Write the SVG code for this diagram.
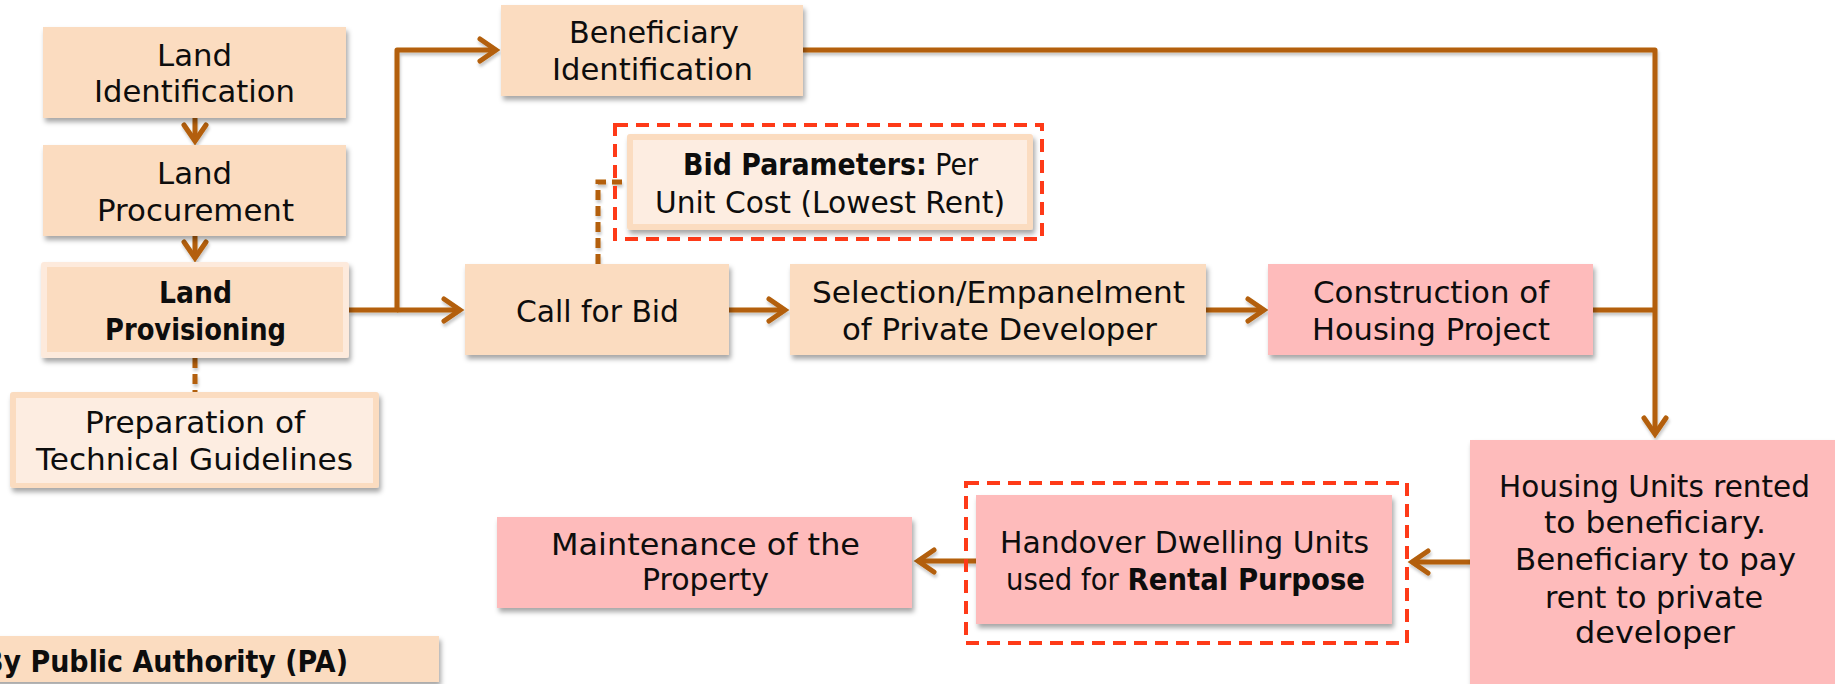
<svg xmlns="http://www.w3.org/2000/svg" width="1835" height="684" viewBox="0 0 1835 684">
  <style>
    text { font-family: "DejaVu Sans", "Liberation Sans", sans-serif; font-size: 30px; fill: #0d0d0d; }
    .b { font-weight: bold; }
    .peach { fill: #fbdcc0; }
    .pink { fill: #febbbb; }
    .light { fill: #fdede1; }
    .pale { fill: #fdeadc; }
    .flow { fill: none; stroke: #b35e08; stroke-width: 5; stroke-linejoin: round; }
    .dash { fill: none; stroke: #b35e08; stroke-width: 5; stroke-dasharray: 10 6; }
    .focus { fill: none; stroke: #fe3a18; stroke-width: 4; stroke-dasharray: 13 8; }
  </style>
  <defs>
    <filter id="sh" x="-10%" y="-20%" width="130%" height="150%">
      <feDropShadow dx="2" dy="4" stdDeviation="2.5" flood-color="#000" flood-opacity="0.35"/>
    </filter>
    <filter id="lsh" x="-5%" y="-5%" width="110%" height="110%">
      <feDropShadow dx="1" dy="3" stdDeviation="1.5" flood-color="#000" flood-opacity="0.22"/>
    </filter>
    <marker id="arr" markerUnits="userSpaceOnUse" markerWidth="40" markerHeight="40" viewBox="-20 -20 40 40" refX="0" refY="0" orient="auto" overflow="visible">
      <path d="M-16,-11 L0,0 L-16,11" fill="none" stroke="#b35e08" stroke-width="5" stroke-linecap="round" stroke-linejoin="miter"/>
    </marker>
  </defs>

  <rect width="1835" height="684" fill="#ffffff"/>

  <!-- connectors -->
  <g id="connectors" filter="url(#lsh)">
    <path class="flow" d="M195,118 V141" marker-end="url(#arr)"/>
    <path class="flow" d="M195,236 V258" marker-end="url(#arr)"/>
    <path class="dash" d="M195,358 V392"/>
    <path class="flow" d="M349,310 H397 V50 H496" marker-end="url(#arr)"/>
    <path class="flow" d="M397,310 H460" marker-end="url(#arr)"/>
    <path class="dash" d="M598,264 V182 H629"/>
    <path class="flow" d="M729,310 H785" marker-end="url(#arr)"/>
    <path class="flow" d="M1206,310 H1264" marker-end="url(#arr)"/>
    <path class="flow" d="M803,50 H1655 V434" marker-end="url(#arr)"/>
    <path class="flow" d="M1593,310 H1655"/>
    <path class="flow" d="M1470,562 H1412" marker-end="url(#arr)"/>
    <path class="flow" d="M976,561 H918" marker-end="url(#arr)"/>
  </g>

  <g id="land-identification">
    <rect class="peach" x="43" y="27" width="303" height="91" filter="url(#sh)"/>
    <text x="157" y="66" textLength="75" lengthAdjust="spacingAndGlyphs">Land</text>
    <text x="94" y="102" textLength="201" lengthAdjust="spacingAndGlyphs">Identification</text>
  </g>

  <g id="land-procurement">
    <rect class="peach" x="43" y="145" width="303" height="91" filter="url(#sh)"/>
    <text x="157" y="184" textLength="75" lengthAdjust="spacingAndGlyphs">Land</text>
    <text x="97" y="221" textLength="197" lengthAdjust="spacingAndGlyphs">Procurement</text>
  </g>

  <g id="land-provisioning">
    <rect class="pale" x="41" y="262" width="308" height="96" rx="3" filter="url(#sh)"/>
    <rect class="peach" x="47" y="267" width="296" height="85"/>
    <text class="b" x="159" y="303" textLength="73" lengthAdjust="spacingAndGlyphs">Land</text>
    <text class="b" x="105" y="340" textLength="181" lengthAdjust="spacingAndGlyphs">Provisioning</text>
  </g>

  <g id="technical-guidelines">
    <rect class="peach" x="10" y="392" width="369" height="96" rx="3" filter="url(#sh)"/>
    <rect class="light" x="16" y="398" width="357" height="85"/>
    <text x="85" y="433" textLength="220" lengthAdjust="spacingAndGlyphs">Preparation of</text>
    <text x="36" y="470" textLength="317" lengthAdjust="spacingAndGlyphs">Technical Guidelines</text>
  </g>

  <g id="beneficiary-identification">
    <rect class="peach" x="501" y="5" width="302" height="91" filter="url(#sh)"/>
    <text x="569" y="43" textLength="170" lengthAdjust="spacingAndGlyphs">Beneficiary</text>
    <text x="552" y="80" textLength="201" lengthAdjust="spacingAndGlyphs">Identification</text>
  </g>

  <g id="bid-parameters">
    <rect class="focus" x="615" y="125" width="427" height="114"/>
    <rect class="peach" x="627" y="134" width="406" height="96" rx="3" filter="url(#sh)"/>
    <rect class="light" x="633" y="140" width="394" height="84"/>
    <text x="683" y="175" textLength="295" lengthAdjust="spacingAndGlyphs"><tspan class="b">Bid Parameters:</tspan> Per</text>
    <text x="655" y="213" textLength="350" lengthAdjust="spacingAndGlyphs">Unit Cost (Lowest Rent)</text>
  </g>

  <g id="call-for-bid">
    <rect class="peach" x="465" y="264" width="264" height="91" filter="url(#sh)"/>
    <text x="516" y="322" textLength="163" lengthAdjust="spacingAndGlyphs">Call for Bid</text>
  </g>

  <g id="developer-selection">
    <rect class="peach" x="790" y="264" width="416" height="91" filter="url(#sh)"/>
    <text x="812" y="303" textLength="373" lengthAdjust="spacingAndGlyphs">Selection/Empanelment</text>
    <text x="842" y="340" textLength="315" lengthAdjust="spacingAndGlyphs">of Private Developer</text>
  </g>

  <g id="construction">
    <rect class="pink" x="1268" y="264" width="325" height="91" filter="url(#sh)"/>
    <text x="1313" y="303" textLength="236" lengthAdjust="spacingAndGlyphs">Construction of</text>
    <text x="1312" y="340" textLength="238" lengthAdjust="spacingAndGlyphs">Housing Project</text>
  </g>

  <g id="housing-units-rented">
    <rect class="pink" x="1470" y="440" width="400" height="260" filter="url(#sh)"/>
    <text x="1499" y="497" textLength="311" lengthAdjust="spacingAndGlyphs">Housing Units rented</text>
    <text x="1544" y="533" textLength="222" lengthAdjust="spacingAndGlyphs">to beneficiary.</text>
    <text x="1515" y="570" textLength="281" lengthAdjust="spacingAndGlyphs">Beneficiary to pay</text>
    <text x="1545" y="608" textLength="218" lengthAdjust="spacingAndGlyphs">rent to private</text>
    <text x="1575" y="643" textLength="160" lengthAdjust="spacingAndGlyphs">developer</text>
  </g>

  <g id="handover">
    <rect class="focus" x="966" y="483" width="441" height="160"/>
    <rect class="pink" x="976" y="495" width="416" height="129" filter="url(#sh)"/>
    <text x="1000" y="553" textLength="369" lengthAdjust="spacingAndGlyphs">Handover Dwelling Units</text>
    <text x="1006" y="590" textLength="359" lengthAdjust="spacingAndGlyphs">used for <tspan class="b">Rental Purpose</tspan></text>
  </g>

  <g id="maintenance">
    <rect class="pink" x="497" y="517" width="415" height="91" filter="url(#sh)"/>
    <text x="551" y="555" textLength="309" lengthAdjust="spacingAndGlyphs">Maintenance of the</text>
    <text x="642" y="590" textLength="127" lengthAdjust="spacingAndGlyphs">Property</text>
  </g>

  <g id="legend-public-authority">
    <rect class="peach" x="-10" y="636" width="449" height="46" filter="url(#sh)"/>
    <text class="b" x="-17" y="672" textLength="365" lengthAdjust="spacingAndGlyphs">By Public Authority (PA)</text>
  </g>
</svg>
